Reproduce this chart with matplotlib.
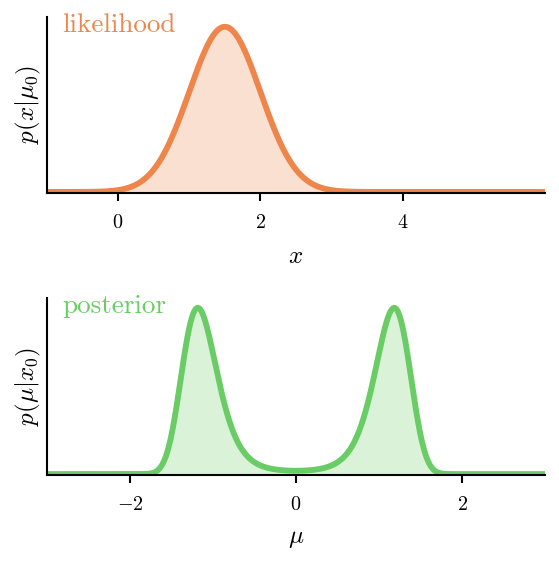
import numpy as np
import matplotlib
matplotlib.use("Agg")
import matplotlib.pyplot as plt

plt.rcParams['mathtext.fontset'] = 'cm'
plt.rcParams['font.family'] = ['cmr10', 'DejaVu Serif']
plt.rcParams['axes.unicode_minus'] = False

# parameters
lik_mean = 1.5        # centre of likelihood p(x|mu0)
noise_sd = 0.5        # width of likelihood
x_obs = 1.4           # observation x0 -> posterior modes at +-sqrt(x0)

top_xticks = [0, 2, 4]
top_xticklabels = ['$0$', '$2$', '$4$']
bot_xticks = [-2, 0, 2]
bot_xticklabels = ['$-2$', '$0$', '$2$']

orange = '#EE854A'
green = '#6ACC64'

fig = plt.figure(figsize=(5.59, 5.62), dpi=100)
ax1 = fig.add_axes([0.084, 0.657, 0.891, 0.313])
ax2 = fig.add_axes([0.084, 0.155, 0.891, 0.315])

x = np.linspace(-1, 6, 800)
lik = np.exp(-(x - lik_mean) ** 2 / (2 * noise_sd ** 2))
mu = np.linspace(-3, 3, 800)
post = np.exp(-(x_obs - mu ** 2) ** 2 / (2 * noise_sd ** 2))

for ax, xs, ys, col, name, xl, yl, ticks, labels, lims in [
    (ax1, x, lik, orange, 'likelihood', r'$x$', r'$p(x|\mu_0)$', top_xticks, top_xticklabels, (-1, 6)),
    (ax2, mu, post, green, 'posterior', r'$\mu$', r'$p(\mu|x_0)$', bot_xticks, bot_xticklabels, (-3, 3)),
]:
    ax.fill_between(xs, 0, ys, color=col, alpha=0.25, lw=0)
    ax.plot(xs, ys, color=col, lw=4.2, solid_capstyle='butt')
    ax.set_xlim(*lims)
    ax.set_ylim(-0.005, ys.max() * 1.06)
    ax.set_xticks(ticks)
    ax.set_xticklabels(labels, fontsize=14.5)
    ax.set_yticks([])
    ax.spines['top'].set_visible(False)
    ax.spines['right'].set_visible(False)
    for s in ('left', 'bottom'):
        ax.spines[s].set_linewidth(1.5)
    ax.tick_params(axis='x', length=6, width=1.5, pad=9)
    ax.set_xlabel(xl, fontsize=18, labelpad=10)
    ax.set_ylabel(yl, fontsize=18, labelpad=3)
    ax.text(0.03, 1.02, name, transform=ax.transAxes, color=col, fontsize=19.5,
            ha='left', va='top')

fig.savefig('out.png', dpi=100)
